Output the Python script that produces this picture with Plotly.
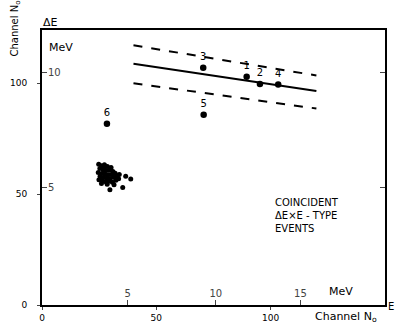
import plotly.graph_objects as go

# ---- data (channel numbers) ----
cluster_x = [24.8, 26.0, 27.3, 28.6, 30.2, 25.3, 26.8, 28.0, 29.5, 31.0, 24.6, 26.2, 27.6, 29.0,
             30.5, 32.0, 25.4, 26.9, 28.3, 29.8, 31.3, 32.8, 24.9, 26.4, 27.9, 29.3, 30.8, 32.3,
             33.5, 26.0, 28.5, 31.5, 27.2, 30.0, 25.8, 36.6, 38.8, 29.7, 35.3, 33.8]
cluster_y = [63.5, 62.8, 63.2, 62.5, 62.0, 61.5, 61.0, 60.6, 60.8, 60.2, 59.8, 59.3, 59.0, 58.7,
             58.9, 59.4, 58.0, 57.5, 57.2, 57.0, 57.6, 57.8, 56.5, 56.0, 55.6, 55.8, 55.4, 56.2,
             56.9, 54.8, 54.5, 54.2, 62.0, 61.3, 57.0, 58.0, 56.8, 52.0, 53.0, 58.8]

event_labels = ["3", "1", "2", "4", "5", "6"]
event_x = [70.5, 89.5, 95.3, 103.3, 70.7, 28.4]
event_y = [107.0, 102.9, 99.7, 99.4, 85.8, 81.7]

line_x = [40, 120]
line_center = [108.8, 96.5]
line_upper = [117.1, 103.5]
line_lower = [100.0, 88.6]

x_ch_ticks = [0, 50, 100]
y_ch_ticks = [0, 50, 100]
x_mev_labels = ["5", "10", "15"]
x_mev_pos = [37.5, 76.0, 113.0]
y_mev_labels = ["5", "10"]
y_mev_pos = [53.0, 105.0]

FONT = "DejaVu Sans"
fig = go.Figure()

fig.add_trace(go.Scatter(x=cluster_x, y=cluster_y, mode="markers",
                         marker=dict(size=5, color="black"), showlegend=False, hoverinfo="skip"))
fig.add_trace(go.Scatter(x=line_x, y=line_upper, mode="lines",
                         line=dict(color="black", width=2, dash="dash"), showlegend=False))
fig.add_trace(go.Scatter(x=line_x, y=line_lower, mode="lines",
                         line=dict(color="black", width=2, dash="dash"), showlegend=False))
fig.add_trace(go.Scatter(x=line_x, y=line_center, mode="lines",
                         line=dict(color="black", width=2), showlegend=False))
fig.add_trace(go.Scatter(x=event_x, y=event_y, mode="markers+text", text=event_labels,
                         textposition="top center",
                         textfont=dict(family=FONT, size=10, color="black"),
                         marker=dict(size=6.5, color="black"), showlegend=False))

# MeV scale axes (overlaid)
fig.add_trace(go.Scatter(x=[None], y=[None], xaxis="x2", yaxis="y2", showlegend=False))
fig.add_trace(go.Scatter(x=[None], y=[None], xaxis="x2", yaxis="y3", showlegend=False))

fig.update_layout(
    width=397, height=333,
    margin=dict(l=38, r=10, t=30, b=19),
    paper_bgcolor="white", plot_bgcolor="white",
    font=dict(family=FONT, size=10, color="black"),
    xaxis=dict(range=[0, 150], tickvals=x_ch_ticks, ticks="outside", ticklen=3,
               showline=True, linecolor="black", linewidth=2, mirror=True,
               showgrid=False, zeroline=False, tickfont=dict(size=9)),
    yaxis=dict(range=[0, 124], tickvals=y_ch_ticks, ticks="outside", ticklen=3,
               ticklabelstandoff=8,
               showline=True, linecolor="black", linewidth=2, mirror=True,
               showgrid=False, zeroline=False, tickfont=dict(size=9)),
    xaxis2=dict(range=[0, 150], overlaying="x", anchor="y", side="bottom",
                tickvals=x_mev_pos, ticktext=x_mev_labels, ticks="inside", ticklen=5,
                ticklabelposition="inside", showline=False, showgrid=False, zeroline=False,
                tickfont=dict(size=10)),
    yaxis2=dict(range=[0, 124], overlaying="y", anchor="x", side="left",
                tickvals=y_mev_pos, ticktext=y_mev_labels, ticks="inside", ticklen=5,
                ticklabelposition="inside", showline=False, showgrid=False, zeroline=False,
                tickfont=dict(size=10)),
    yaxis3=dict(range=[0, 124], overlaying="y", anchor="x", side="right",
                tickvals=y_mev_pos, showticklabels=False, ticks="inside", ticklen=5,
                showline=False, showgrid=False, zeroline=False),
)

ann = [
    dict(text="Channel N<sub>o</sub>", x=11, y=28, textangle=-90, font=dict(size=10)),
    dict(text="ΔE", x=47, y=22, font=dict(size=11)),
    dict(text="MeV", x=57, y=48, font=dict(size=11)),
    dict(text="MeV", x=342, y=300, font=dict(size=11)),
    dict(text="Channel N<sub>o</sub>", x=347, y=326, font=dict(size=11)),
    dict(text="E", x=393, y=316, font=dict(size=10)),
]
for a in ann:
    fig.add_annotation(xref="paper", yref="paper",
                       x=(a["x"] - 38) / 349,
                       y=(314 - a["y"]) / 284,
                       text=a["text"], showarrow=False, textangle=a.get("textangle", 0),
                       font=dict(family=FONT, color="black", **a["font"]),
                       xanchor="center", yanchor="middle")

fig.add_annotation(x=101, y=40.5, xref="x", yref="y", showarrow=False, align="left",
                   xanchor="left", yanchor="middle",
                   text="COINCIDENT<br>ΔE×E - TYPE<br>EVENTS",
                   font=dict(family=FONT, size=10, color="black"))

fig.write_html("out.html")
